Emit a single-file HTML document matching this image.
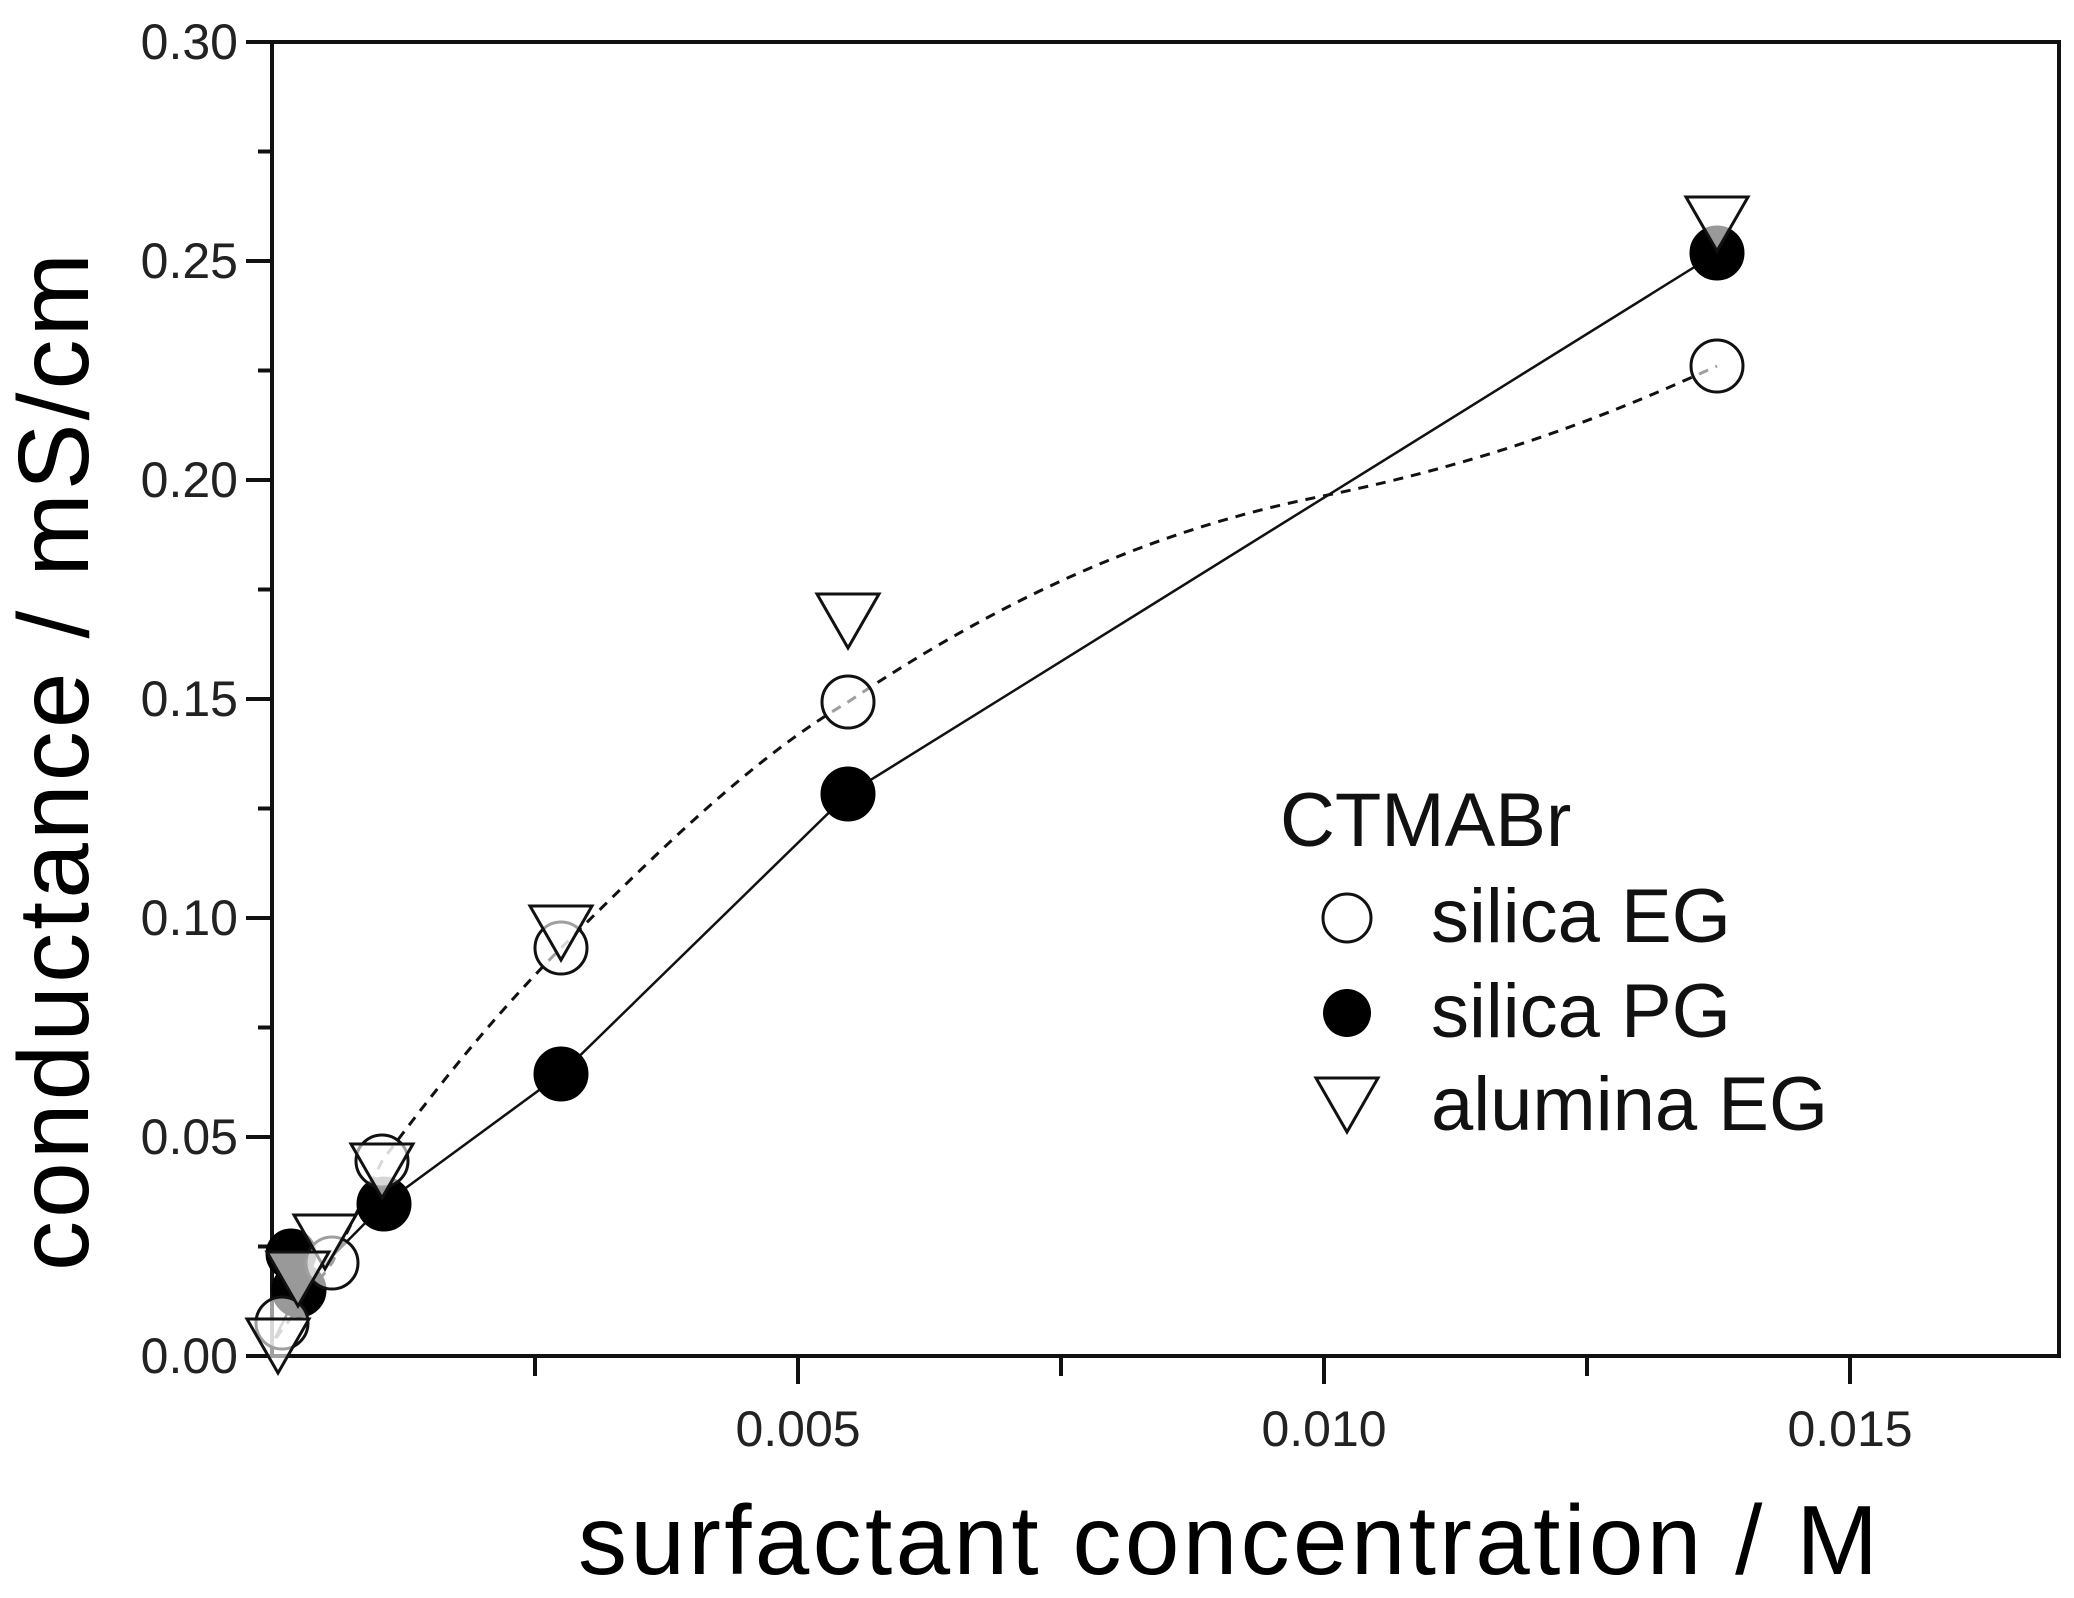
<!DOCTYPE html>
<html><head><style>html,body{margin:0;padding:0;background:#fff}svg{display:block}</style></head>
<body>
<svg width="2074" height="1598" viewBox="0 0 2074 1598" xmlns="http://www.w3.org/2000/svg" font-family="Liberation Sans, Arial, sans-serif">
<rect width="2074" height="1598" fill="#fff"/>
<g stroke="#111" stroke-width="4" fill="none">
<rect x="272" y="42" width="1787" height="1314"/>
<line x1="246" y1="42" x2="272" y2="42"/><line x1="258" y1="151.5" x2="272" y2="151.5"/>
<line x1="246" y1="261" x2="272" y2="261"/><line x1="258" y1="370.5" x2="272" y2="370.5"/>
<line x1="246" y1="480" x2="272" y2="480"/><line x1="258" y1="589.5" x2="272" y2="589.5"/>
<line x1="246" y1="699" x2="272" y2="699"/><line x1="258" y1="808.5" x2="272" y2="808.5"/>
<line x1="246" y1="918" x2="272" y2="918"/><line x1="258" y1="1027.5" x2="272" y2="1027.5"/>
<line x1="246" y1="1137" x2="272" y2="1137"/><line x1="258" y1="1246.5" x2="272" y2="1246.5"/>
<line x1="246" y1="1356" x2="272" y2="1356"/>
<line x1="535" y1="1356" x2="535" y2="1376"/><line x1="798" y1="1356" x2="798" y2="1384"/>
<line x1="1061" y1="1356" x2="1061" y2="1376"/><line x1="1324" y1="1356" x2="1324" y2="1384"/>
<line x1="1587" y1="1356" x2="1587" y2="1376"/><line x1="1850" y1="1356" x2="1850" y2="1384"/>
</g>
<g font-size="50" fill="#222" text-anchor="end">
<text x="238" y="59">0.30</text><text x="238" y="278">0.25</text><text x="238" y="497">0.20</text>
<text x="238" y="716">0.15</text><text x="238" y="935">0.10</text><text x="238" y="1154">0.05</text>
<text x="238" y="1373">0.00</text>
</g>
<g font-size="50" fill="#222" text-anchor="middle">
<text x="798" y="1446">0.005</text><text x="1324" y="1446">0.010</text><text x="1850" y="1446">0.015</text>
</g>
<text x="1228" y="1574" font-size="98" text-anchor="middle" textLength="1300" fill="#000">surfactant concentration / M</text>
<text transform="translate(88,762) rotate(-90)" font-size="100" text-anchor="middle" textLength="1018" fill="#000">conductance / mS/cm</text>
<path d="M275,1338 L299,1290 L384,1204 L561,1074 L848,794 L1717,253" stroke="#111" stroke-width="2.5" fill="none"/>
<path d="M276,1338 L332,1263 L382,1161 C450,1070 500,1010 561,948 C660,850 750,760 848,702 C1000,600 1150,530 1323,496 C1500,460 1620,410 1717,366" stroke="#111" stroke-width="3" stroke-dasharray="10,8" fill="none"/>
<g fill="#000" stroke="#000" stroke-width="3">
<circle cx="1717" cy="253" r="26"/><circle cx="848" cy="794" r="26"/><circle cx="561" cy="1074" r="26"/>
<circle cx="384" cy="1204" r="26"/><circle cx="299" cy="1290" r="26"/><circle cx="291" cy="1254" r="24"/>
</g>
<g fill="#fff" fill-opacity="0.6" stroke="#111" stroke-width="3">
<circle cx="1717" cy="366" r="26"/><circle cx="848" cy="702" r="26"/><circle cx="561" cy="948" r="26"/>
<circle cx="382" cy="1161" r="26"/><circle cx="332" cy="1263" r="26"/><circle cx="282" cy="1323" r="26"/>
</g>
<g fill="#fff" fill-opacity="0.6" stroke="#111" stroke-width="3">
<path d="M1686,197 L1748,197 L1717,251 Z"/>
<path d="M817,594 L879,594 L848,648 Z"/>
<path d="M530,906 L592,906 L561,960 Z"/>
<path d="M351,1144 L413,1144 L382,1198 Z"/>
<path d="M294,1215 L356,1215 L325,1269 Z"/>
<path d="M267,1252 L329,1252 L298,1306 Z"/>
<path d="M247,1319 L309,1319 L278,1373 Z"/>
</g>
<text x="1280" y="846" font-size="76" fill="#111">CTMABr</text>
<circle cx="1347" cy="918" r="24" fill="#fff" stroke="#111" stroke-width="3"/>
<circle cx="1347" cy="1013" r="24" fill="#000"/>
<path d="M1316,1078 L1378,1078 L1347,1132 Z" fill="#fff" stroke="#111" stroke-width="3"/>
<g font-size="76" fill="#111">
<text x="1431" y="942">silica EG</text>
<text x="1431" y="1037">silica PG</text>
<text x="1431" y="1130">alumina EG</text>
</g>
</svg>
</body></html>
